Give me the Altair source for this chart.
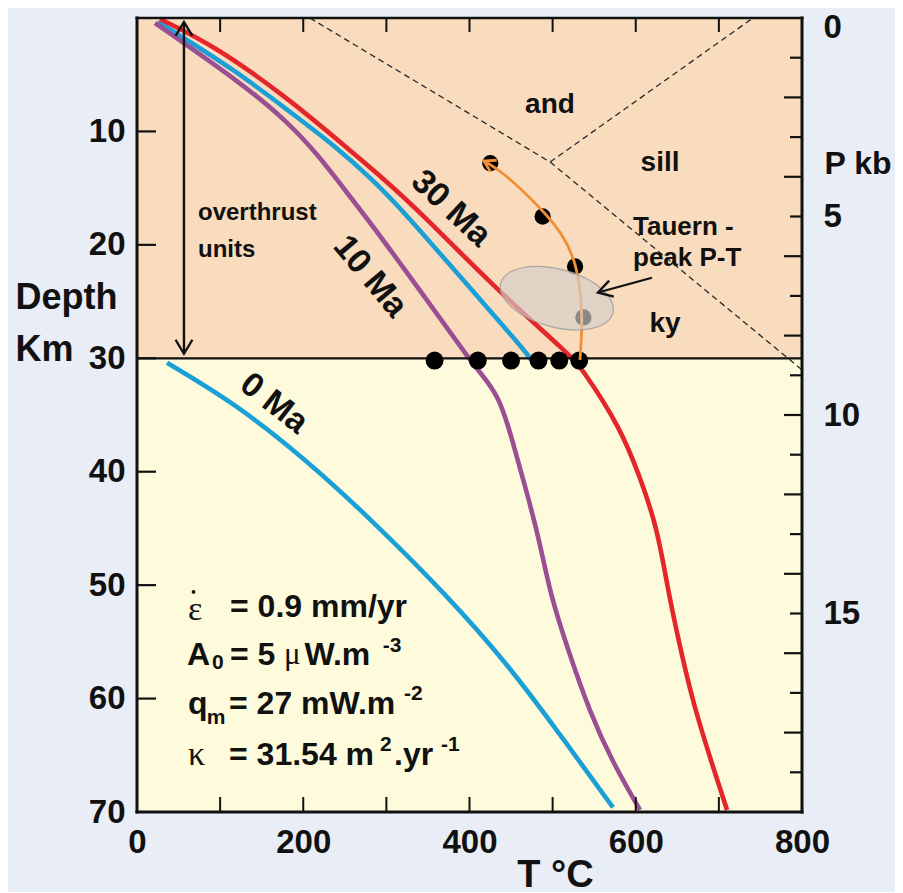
import altair as alt
import pandas as pd

# ---------------- data ----------------
# geotherms: temperature (°C) vs depth (km)
red_T = [27.7, 96.2, 184.1, 244.2, 298.3, 340.5, 433.1, 520.9, 536.5, 581.1, 605.1, 625.6, 638.8, 649.6, 667.7, 692.9, 709.8]
red_D = [0.09, 2.56, 7.23, 10.93, 14.28, 17.10, 23.98, 29.71, 31.03, 36.06, 40.47, 44.87, 50.43, 54.22, 60.13, 66.03, 69.82]

purple_T = [21.7, 123.9, 181.7, 217.7, 250.2, 282.7, 316.4, 364.5, 400.6, 410.2, 436.7, 452.3, 469.2, 484.8, 496.8, 517.3, 545.0, 572.6, 605.1]
purple_D = [0.44, 5.64, 9.17, 12.08, 15.16, 18.25, 21.60, 26.45, 30.15, 31.03, 33.41, 37.47, 41.88, 46.28, 50.69, 55.45, 61.27, 65.68, 69.82]

blue_up_T = [25.3, 117.9, 184.1, 238.2, 283.9, 321.2, 392.2, 469.2, 474.0]
blue_up_D = [0.35, 4.58, 8.29, 11.28, 14.28, 17.10, 23.10, 29.53, 30.15]

blue_lo_T = [36.1, 120.3, 200.9, 280.3, 372.9, 445.1, 505.3, 572.6]
blue_lo_D = [30.4, 34.1, 38.8, 44.1, 50.9, 56.9, 62.8, 69.6]

# aluminosilicate field boundaries (dashed)
dash_seg = ["a", "a", "b", "b", "c", "c"]
dash_T = [208, 497, 497, 803, 497, 741]
dash_D = [0.0, 12.7, 12.7, 31.2, 12.7, 0.0]

# dots
base_dot_T = [358, 410, 450, 483, 508, 532]
base_dot_D = [30.2, 30.2, 30.2, 30.2, 30.2, 30.2]
path_dot_T = [425, 488, 527, 537]
path_dot_D = [12.8, 17.5, 21.9, 26.4]

# P-T path (orange)
path_T = [532.9, 536.5, 530.5, 512.5, 476.4, 436.7, 417.4]
path_D = [30.15, 26.36, 21.95, 18.95, 16.05, 13.40, 12.6]

# Tauern peak P-T ellipse centre
ell_T = [505]
ell_D = [24.7]

# ticks
depth_ticks = [10, 20, 30, 40, 50, 60]
temp_ticks = [100, 200, 300, 400, 500, 600, 700]
kb_long = [2, 4, 6, 8, 10, 12, 14, 16, 18]
kb_short = [1, 3, 5, 7, 9, 11, 13, 15, 17, 19]
temp_labels = [0, 200, 400, 600, 800]
depth_labels = [10, 20, 30, 40, 50, 60, 70]
kb_labels = [0, 5, 10, 15]

# annotations
lab_left_text = ["overthrust", "units"]
lab_left_T = [73.4, 73.4]
lab_left_D = [17.2, 20.45]

lab_tauern_text = ["Tauern -", "peak P-T"]
lab_tauern_T = [596.7, 596.7]
lab_tauern_D = [18.4, 21.2]

lab_center_text = ["and", "sill", "ky"]
lab_center_T = [496.8, 629.2, 635.2]
lab_center_D = [7.7, 12.8, 27.0]

ma_text = ["30 Ma", "10 Ma", "0 Ma"]
ma_T = [377.5, 280.3, 164.6]
ma_D = [16.8, 22.8, 34.0]
ma_angle = [43, 50, 38]

# arrows: overthrust double arrow & Tauern pointer
thrust_T = [56.5, 56.5]
thrust_D = [0.35, 29.6]
tauern_T = [619.5, 554.6]
tauern_D = [22.9, 24.2]
head_T = [56.5, 56.5, 554.6]
head_D = [0.35, 29.6, 24.2]
head_ang = [0, 180, 254]

# parameter block pieces
par_big_text = ["= 0.9 mm/yr", "A", "= 5", "W.m", "q", "= 27 mW.m", "= 31.54 m", ".yr"]
par_big_T = [111.9, 60.2, 111.9, 201.5, 61.4, 110.7, 110.7, 309.2]
par_big_D = [51.93, 56.16, 56.16, 56.16, 60.48, 60.48, 64.97, 64.97]
par_greek_text = ["ε", "κ"]
par_greek_T = [61.4, 61.4]
par_greek_D = [52.2, 64.97]
par_mu_text = ["μ"]
par_mu_T = [176.8]
par_mu_D = [56.16]
par_dot_T = [68.0]
par_dot_D = [50.6]
par_small_text = ["0", "-3", "m", "-2", "2", "-1"]
par_small_T = [90.2, 295.5, 84.0, 321.2, 292.3, 365.7]
par_small_D = [56.86, 55.36, 61.71, 59.6, 64.1, 64.1]

# ---------------- styling ----------------
W, H = 665, 794
FONT = "Liberation Sans"
SERIF = "Liberation Serif"
INK = "#111111"
RED = "#e4262b"
BLUE = "#1a9fd6"
PURPLE = "#9a4f93"
ORANGE = "#f18f35"
PEACH = "#f8dcbd"
CREAM = "#fefbdc"
BG = "#e9edf5"

xs = alt.Scale(domain=[0, 800], nice=False, zero=False)
ys = alt.Scale(domain=[0, 70], reverse=True, nice=False, zero=False)
kbs = alt.Scale(domain=[0, 20], reverse=True, nice=False, zero=False)

XAX = alt.Axis(values=temp_labels, ticks=False, domain=False, grid=False,
               labelFont=FONT, labelFontSize=33, labelFontWeight="bold",
               labelColor=INK, labelPadding=14, labelFlush=False, labelOverlap=False,
               title="T °C", titleFont=FONT, titleFontSize=38, titleFontWeight="bold",
               titleColor=INK, titleX=418, titleY=44, titleBaseline="top",
               titleAlign="center")
YAX = alt.Axis(values=depth_labels, ticks=False, domain=False, grid=False,
               labelFont=FONT, labelFontSize=33, labelFontWeight="bold",
               labelColor=INK, labelPadding=12, labelFlush=False, labelOverlap=False,
               title=["Depth", "Km"], titleFont=FONT, titleFontSize=36,
               titleFontWeight="bold", titleColor=INK, titleAngle=0,
               titleAlign="left", titleBaseline="top", titleX=-122, titleY=262,
               titleLineHeight=52)
KBAX = alt.Axis(values=kb_labels, orient="right", ticks=False, domain=False, grid=False,
                labelFont=FONT, labelFontSize=33, labelFontWeight="bold",
                labelColor=INK, labelPadding=21, labelFlush=True, labelFlushOffset=7,
                labelOverlap=False,
                title="P kb", titleFont=FONT, titleFontSize=32, titleFontWeight="bold",
                titleColor=INK, titleAngle=0, titleAlign="left", titleBaseline="middle",
                titleX=22, titleY=145)


def X(f):
    return alt.X(f"{f}:Q", scale=xs, axis=XAX)


def Y(f):
    return alt.Y(f"{f}:Q", scale=ys, axis=YAX)


def curve_df(T, D):
    return pd.DataFrame({"T": T, "D": D, "i": list(range(len(T)))})


def texts(t, T, D, **mk):
    return alt.Chart(pd.DataFrame({"t": t, "T": T, "D": D})).mark_text(
        color=INK, baseline="middle", **mk).encode(x=X("T"), y=Y("D"), text="t:N")


# ---------------- layers ----------------
regions = pd.DataFrame({"d0": [0, 30], "d1": [30, 70], "c": ["top", "bottom"]})
reg_top = alt.Chart(regions[regions.c == "top"]).mark_rect(color=PEACH).encode(
    x=alt.value(0), x2=alt.value(W), y=Y("d0"), y2="d1:Q")
reg_bot = alt.Chart(regions[regions.c == "bottom"]).mark_rect(color=CREAM).encode(
    x=alt.value(0), x2=alt.value(W), y=Y("d0"), y2="d1:Q")

dashes = alt.Chart(pd.DataFrame({"seg": dash_seg, "T": dash_T, "D": dash_D})).mark_line(
    color="#2a2a2a", strokeWidth=1.3, strokeDash=[6, 4]).encode(
    x=X("T"), y=Y("D"), detail="seg:N")


def curve(T, D, color):
    return alt.Chart(curve_df(T, D)).mark_line(
        color=color, strokeWidth=4.6, interpolate="basis", strokeCap="butt").encode(
        x=X("T"), y=Y("D"), order="i:Q")


c_blue_up = curve(blue_up_T, blue_up_D, BLUE)
c_purple = curve(purple_T, purple_D, PURPLE)
c_red = curve(red_T, red_D, RED)
c_blue_lo = curve(blue_lo_T, blue_lo_D, BLUE)

hline = alt.Chart(pd.DataFrame({"D": [30]})).mark_rule(color=INK, strokeWidth=2.2).encode(
    y=Y("D"), x=alt.value(0), x2=alt.value(W))

base_dots = alt.Chart(pd.DataFrame({"T": base_dot_T, "D": base_dot_D})).mark_circle(
    color="black", size=320, opacity=1).encode(x=X("T"), y=Y("D"))
path_dots = alt.Chart(pd.DataFrame({"T": path_dot_T, "D": path_dot_D})).mark_circle(
    color="black", size=265, opacity=1).encode(x=X("T"), y=Y("D"))

orange = alt.Chart(curve_df(path_T, path_D)).mark_line(
    color=ORANGE, strokeWidth=2.8, interpolate="basis").encode(
    x=X("T"), y=Y("D"), order="i:Q")
orange_head = alt.Chart(pd.DataFrame({"T": [path_T[-1]], "D": [path_D[-1]]})).mark_point(
    shape="M -0.6 1 L 0 0 L 0.6 1", filled=False, color=ORANGE, strokeWidth=2.8,
    size=480, angle=298, opacity=1).encode(x=X("T"), y=Y("D"))

ellipse = alt.Chart(pd.DataFrame({"T": ell_T, "D": ell_D})).mark_point(
    shape="M -1 0 A 1 0.5 0 1 0 1 0 A 1 0.5 0 1 0 -1 0 Z", filled=True,
    color="#d3cfcb", fillOpacity=0.66, stroke="#a4a09c", strokeWidth=1.2, strokeOpacity=0.9,
    size=116 * 116, angle=15).encode(x=X("T"), y=Y("D"))

thrust = alt.Chart(curve_df(thrust_T, thrust_D)).mark_line(color=INK, strokeWidth=2.4).encode(
    x=X("T"), y=Y("D"), order="i:Q")
tauern_arrow = alt.Chart(curve_df(tauern_T, tauern_D)).mark_line(color=INK, strokeWidth=2.2).encode(
    x=X("T"), y=Y("D"), order="i:Q")
heads = alt.Chart(pd.DataFrame({"T": head_T, "D": head_D, "a": head_ang})).mark_point(
    shape="M -0.6 1 L 0 0 L 0.6 1", filled=False, color=INK, strokeWidth=2.4,
    size=784, opacity=1).encode(x=X("T"), y=Y("D"), angle=alt.Angle("a:Q", scale=None))

t_left = texts(lab_left_text, lab_left_T, lab_left_D,
               font=FONT, fontSize=24, fontWeight="bold", align="left")
t_tauern = texts(lab_tauern_text, lab_tauern_T, lab_tauern_D,
                 font=FONT, fontSize=26, fontWeight="bold", align="left")
t_center = texts(lab_center_text, lab_center_T, lab_center_D,
                 font=FONT, fontSize=28, fontWeight="bold", align="center")
t_ma = alt.Chart(pd.DataFrame({"t": ma_text, "T": ma_T, "D": ma_D, "a": ma_angle})).mark_text(
    font=FONT, fontSize=34, fontWeight="bold", color=INK, align="center", baseline="middle").encode(
    x=X("T"), y=Y("D"), text="t:N", angle=alt.Angle("a:Q", scale=None))

p_big = texts(par_big_text, par_big_T, par_big_D,
              font=FONT, fontSize=32, fontWeight="bold", align="left")
p_greek = texts(par_greek_text, par_greek_T, par_greek_D,
                font=SERIF, fontSize=34, align="left")
p_mu = texts(par_mu_text, par_mu_T, par_mu_D,
             font=SERIF, fontSize=31, align="left")
p_dot = alt.Chart(pd.DataFrame({"T": par_dot_T, "D": par_dot_D})).mark_circle(
    color=INK, size=14, opacity=1).encode(x=X("T"), y=Y("D"))
p_small = texts(par_small_text, par_small_T, par_small_D,
                font=FONT, fontSize=21, fontWeight="bold", align="left")

# inward ticks
tick_left = alt.Chart(pd.DataFrame({"D": depth_ticks})).mark_rule(color=INK, strokeWidth=2.2).encode(
    y=Y("D"), x=alt.value(0), x2=alt.value(19))
tick_bottom = alt.Chart(pd.DataFrame({"T": temp_ticks})).mark_rule(color=INK, strokeWidth=2).encode(
    x=X("T"), y=alt.value(H), y2=alt.value(H - 15))
tick_top = alt.Chart(pd.DataFrame({"T": temp_ticks})).mark_rule(color=INK, strokeWidth=2).encode(
    x=X("T"), y=alt.value(0), y2=alt.value(14))

# frame
frame_l = alt.Chart(pd.DataFrame({"k": [0]})).mark_rule(color=INK, strokeWidth=3).encode(
    x=alt.value(0), y=alt.value(-1.5), y2=alt.value(H + 1.5))
frame_r = alt.Chart(pd.DataFrame({"k": [0]})).mark_rule(color=INK, strokeWidth=3).encode(
    x=alt.value(W), y=alt.value(-1.5), y2=alt.value(H + 1.5))
frame_b = alt.Chart(pd.DataFrame({"k": [0]})).mark_rule(color=INK, strokeWidth=3).encode(
    y=alt.value(H), x=alt.value(-1.5), x2=alt.value(W + 1.5))
frame_t = alt.Chart(pd.DataFrame({"k": [0]})).mark_rule(color=INK, strokeWidth=2.4).encode(
    y=alt.value(0), x=alt.value(-1.5), x2=alt.value(W + 1.5))

main = alt.layer(
    reg_top, reg_bot, dashes,
    c_blue_up, c_purple, c_red, c_blue_lo,
    hline, base_dots, path_dots, orange, orange_head, ellipse,
    thrust, tauern_arrow, heads,
    t_left, t_tauern, t_center, t_ma, p_big, p_greek, p_mu, p_dot, p_small,
    tick_left, tick_bottom, tick_top,
    frame_l, frame_b, frame_t,
)

kb_l = alt.Chart(pd.DataFrame({"kb": kb_long})).mark_rule(color=INK, strokeWidth=2.2).encode(
    y=alt.Y("kb:Q", scale=kbs, axis=KBAX), x=alt.value(W - 18), x2=alt.value(W))
kb_s = alt.Chart(pd.DataFrame({"kb": kb_short})).mark_rule(color=INK, strokeWidth=2.2).encode(
    y=alt.Y("kb:Q", scale=kbs, axis=KBAX), x=alt.value(W - 12), x2=alt.value(W))
right = alt.layer(kb_l, kb_s, frame_r)

chart = alt.layer(main, right).resolve_scale(y="independent").properties(
    width=W, height=H,
    padding={"left": 129, "top": 10, "right": 93, "bottom": 80},
    autosize=alt.AutoSizeParams(type="none"),
    background=BG,
).configure_view(stroke=None)

chart.save("out.html", embed_options={"renderer": "svg", "actions": False})
